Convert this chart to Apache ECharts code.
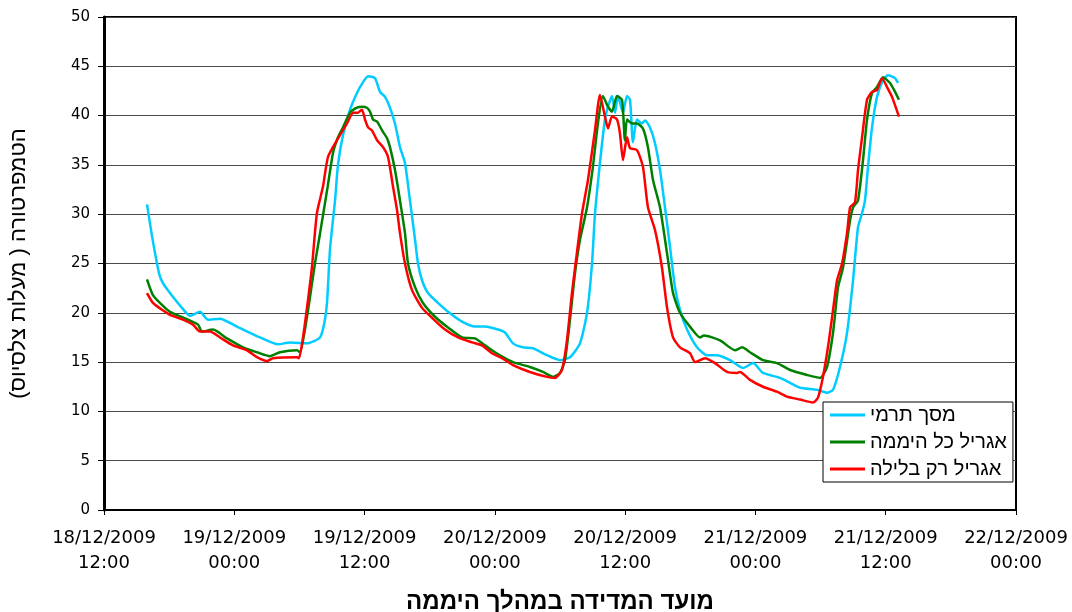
<!DOCTYPE html>
<html>
<head>
<meta charset="utf-8">
<script src="https://cdn.jsdelivr.net/npm/echarts@6/dist/echarts.min.js"></script>
<style>
  html, body { margin: 0; padding: 0; background: #fff; }
  #chart { width: 1072px; height: 612px; }
</style>
</head>
<body>
<div id="chart"></div>
<script>
// שעות מ-18/12/2009 12:00, טמפרטורה במעלות צלסיוס
var tickLabels = ['18/12/2009\n12:00', '19/12/2009\n00:00', '19/12/2009\n12:00', '20/12/2009\n00:00',
    '20/12/2009\n12:00', '21/12/2009\n00:00', '21/12/2009\n12:00', '22/12/2009\n00:00'];

var seriesNames = ['מסך תרמי', 'אגריל כל היממה', 'אגריל רק בלילה'];

var screenData = [[3.96,31.0],[4.45,27.6],[5.07,24.0],[5.43,23.0],[6.08,22.0],[6.36,21.6],[7.18,20.5],[7.92,19.7],
    [8.84,20.1],[9.58,19.3],[10.68,19.4],[12.25,18.6],[14.37,17.5],[16.03,16.8],[17.13,17.0],[18.70,16.9],[19.89,17.5],
    [20.30,19.0],[20.54,21.0],[20.82,26.5],[21.28,31.4],[21.55,35.0],[22.01,38.0],[22.66,40.6],[23.30,42.3],[23.86,43.4],
    [24.32,44.0],[24.96,43.8],[25.42,42.4],[25.88,41.9],[26.34,40.8],[26.80,39.2],[27.26,36.8],[27.72,35.2],[28.18,31.4],
    [28.65,27.4],[28.92,25.0],[29.29,23.3],[29.84,22.0],[30.76,21.0],[31.69,20.1],[32.98,19.1],[34.17,18.6],[35.09,18.6],
    [36.29,18.3],[36.93,18.0],[37.67,16.9],[38.59,16.5],[39.51,16.4],[40.80,15.7],[42.00,15.2],[42.92,15.5],[43.84,16.9],
    [44.49,20.0],[44.95,25.0],[45.22,30.0],[45.68,35.2],[46.14,39.6],[46.42,40.9],[46.79,42.0],[47.07,40.3],[47.34,42.0],
    [47.80,40.3],[48.17,42.0],[48.45,41.6],[48.72,37.3],[49.09,39.6],[49.55,39.2],[49.83,39.5],[50.29,38.8],[50.75,37.2],
    [51.21,34.5],[51.67,30.7],[52.13,26.7],[52.59,22.6],[53.05,20.3],[53.70,18.3],[54.62,16.5],[55.54,15.7],[56.46,15.7],
    [57.66,15.2],[58.86,14.4],[59.78,14.9],[60.70,13.9],[62.26,13.4],[63.19,12.9],[64.11,12.4],[65.67,12.2],[66.59,11.9],
    [67.15,12.2],[67.79,14.5],[68.44,18.0],[68.99,23.3],[69.45,28.7],[69.82,30.1],[70.09,31.4],[70.37,34.8],[70.74,38.8],
    [71.20,41.9],[71.75,43.6],[72.21,44.1],[72.86,43.8],[73.13,43.3]];

var allDayData = [[3.96,23.4],[4.51,21.8],[5.34,20.8],[6.08,20.1],[7.74,19.3],[8.66,18.8],[9.03,18.1],[10.04,18.3],
    [11.33,17.4],[12.80,16.5],[14.09,16.0],[15.29,15.6],[16.21,16.0],[17.77,16.2],[18.05,16.0],[18.70,19.6],[19.24,23.6],
    [19.43,25.0],[19.89,28.0],[20.63,33.0],[21.09,36.2],[21.55,37.8],[22.01,38.8],[22.66,40.3],[23.30,40.8],[23.76,40.9],
    [24.22,40.8],[24.50,40.4],[24.78,39.6],[25.15,39.4],[25.61,38.5],[26.07,37.7],[26.34,36.8],[26.80,34.5],[27.26,31.4],
    [27.72,28.1],[28.00,25.0],[28.65,22.6],[29.38,21.0],[30.49,19.6],[31.69,18.5],[32.98,17.5],[34.17,17.4],[35.09,16.7],
    [36.01,16.0],[36.93,15.4],[37.67,15.0],[39.23,14.5],[40.43,14.0],[41.35,13.5],[42.00,13.9],[42.46,15.2],[42.92,19.3],
    [43.38,24.0],[43.84,27.4],[44.49,30.7],[45.03,34.8],[45.49,39.2],[45.95,42.0],[46.42,40.9],[46.79,40.4],[47.25,42.0],
    [47.71,41.6],[47.98,37.5],[48.17,39.6],[48.63,39.2],[49.09,39.2],[49.64,38.7],[50.10,36.8],[50.56,33.5],[51.21,30.7],
    [51.85,26.1],[52.41,22.0],[53.05,20.0],[53.97,18.6],[54.89,17.5],[55.26,17.7],[56.74,17.2],[58.12,16.2],[58.77,16.5],
    [59.50,16.0],[60.70,15.2],[61.99,14.9],[63.19,14.2],[64.75,13.7],[65.95,13.4],[66.59,14.5],[67.15,18.0],[67.61,22.6],
    [68.07,24.6],[68.72,29.4],[69.00,30.7],[69.45,31.4],[69.91,35.5],[70.28,39.6],[70.74,42.3],[71.20,42.9],[71.75,43.9],
    [72.40,43.3],[72.86,42.4],[73.22,41.6]];

var nightData = [[3.96,22.0],[4.51,21.0],[5.34,20.3],[6.08,19.8],[7.27,19.3],[8.19,18.8],[8.84,18.1],[9.76,18.1],
    [10.68,17.5],[11.88,16.7],[13.17,16.2],[14.09,15.5],[15.01,15.1],[15.56,15.4],[17.77,15.5],[17.96,15.4],[18.33,17.5],
    [18.79,21.3],[19.15,24.6],[19.61,30.1],[20.17,32.8],[20.63,35.8],[21.46,37.5],[22.38,39.2],[22.94,40.3],[23.39,40.3],
    [23.76,40.6],[24.04,39.6],[24.32,38.8],[24.68,38.5],[25.15,37.5],[25.70,36.8],[26.16,35.8],[26.62,32.8],[26.99,30.4],
    [27.26,28.1],[27.72,25.0],[28.37,22.3],[29.29,20.5],[30.21,19.5],[31.41,18.3],[32.61,17.5],[33.90,17.0],[34.81,16.7],
    [35.74,15.9],[36.66,15.4],[37.67,14.7],[39.23,14.0],[40.80,13.5],[41.54,13.4],[42.18,14.2],[42.64,17.2],[43.10,22.0],
    [43.56,26.1],[44.03,30.1],[44.58,33.5],[45.22,38.5],[45.68,42.1],[46.14,39.9],[46.42,38.7],[46.79,39.9],[47.25,39.6],
    [47.52,38.2],[47.80,35.5],[48.17,37.8],[48.45,36.7],[49.09,36.5],[49.64,34.8],[50.10,30.7],[50.75,28.4],[51.39,24.6],
    [51.85,20.6],[52.41,17.5],[53.05,16.5],[53.97,15.9],[54.44,15.0],[55.36,15.4],[56.28,14.9],[57.38,14.0],[58.31,13.9],
    [58.58,14.0],[59.50,13.2],[60.70,12.5],[61.99,12.0],[62.91,11.5],[64.11,11.2],[65.30,10.9],[65.76,11.4],[66.22,13.5],
    [66.68,16.5],[67.15,20.3],[67.52,23.3],[67.98,25.0],[68.44,28.1],[68.72,30.7],[69.17,31.2],[69.45,34.5],[69.82,37.8],
    [70.28,41.6],[70.74,42.4],[71.20,42.6],[71.66,43.8],[72.12,42.9],[72.58,41.9],[73.22,39.9]];

var colors = ['#00ccff', '#008000', '#ff0000'];

var chart = echarts.init(document.getElementById('chart'));

function makeSeries(name, data, color) {
    return {
        name: name,
        type: 'line',
        data: data,
        showSymbol: false,
        smooth: 0.2,
        silent: true,
        lineStyle: { color: color, width: 2.5 },
        itemStyle: { color: color }
    };
}

var option = {
    animation: false,
    backgroundColor: '#fff',
    textStyle: { fontFamily: 'DejaVu Sans' },
    grid: {
        left: 104, right: 56, top: 17, bottom: 102,
        outerBoundsMode: 'none',
        show: true, borderColor: '#000', borderWidth: 2
    },
    legend: {
        orient: 'vertical',
        left: 823,
        top: 402,
        padding: [3, 6, 3, 7],
        itemGap: 7,
        itemWidth: 35,
        itemHeight: 3,
        icon: 'rect',
        backgroundColor: '#fff',
        borderColor: '#000',
        borderWidth: 1,
        borderRadius: 0,
        textStyle: { fontSize: 20, color: '#000', fontFamily: 'Liberation Sans, DejaVu Sans' },
        data: seriesNames
    },
    xAxis: {
        type: 'value',
        min: 0,
        max: 84,
        interval: 12,
        splitLine: { show: false },
        axisLine: { lineStyle: { color: '#000', width: 2 } },
        axisTick: { show: true, length: 5, lineStyle: { color: '#000' } },
        axisLabel: {
            fontSize: 18,
            color: '#000',
            lineHeight: 25,
            margin: 16,
            formatter: function (v) { return tickLabels[Math.round(v / 12)]; }
        },
        name: 'מועד המדידה במהלך היממה',
        nameLocation: 'middle',
        nameGap: 80,
        nameTextStyle: { fontSize: 24, fontWeight: 'bold', color: '#000', fontFamily: 'Liberation Sans, DejaVu Sans' }
    },
    yAxis: {
        type: 'value',
        min: 0,
        max: 50,
        interval: 5,
        splitLine: { show: true, lineStyle: { color: '#4a4a4a', width: 1 } },
        axisLine: { show: true, lineStyle: { color: '#000', width: 3 } },
        axisTick: { show: true, length: 6, lineStyle: { color: '#000' } },
        axisLabel: { fontSize: 15, color: '#000', margin: 14 },
        name: 'הטמפרטורה ( מעלות צלסיוס)',
        nameLocation: 'middle',
        nameGap: 74,
        nameTextStyle: { fontSize: 22, color: '#000', fontFamily: 'Liberation Sans, DejaVu Sans' }
    },
    series: [
        makeSeries(seriesNames[0], screenData, colors[0]),
        makeSeries(seriesNames[1], allDayData, colors[1]),
        makeSeries(seriesNames[2], nightData, colors[2])
    ]
};

chart.setOption(option);
</script>
</body>
</html>
